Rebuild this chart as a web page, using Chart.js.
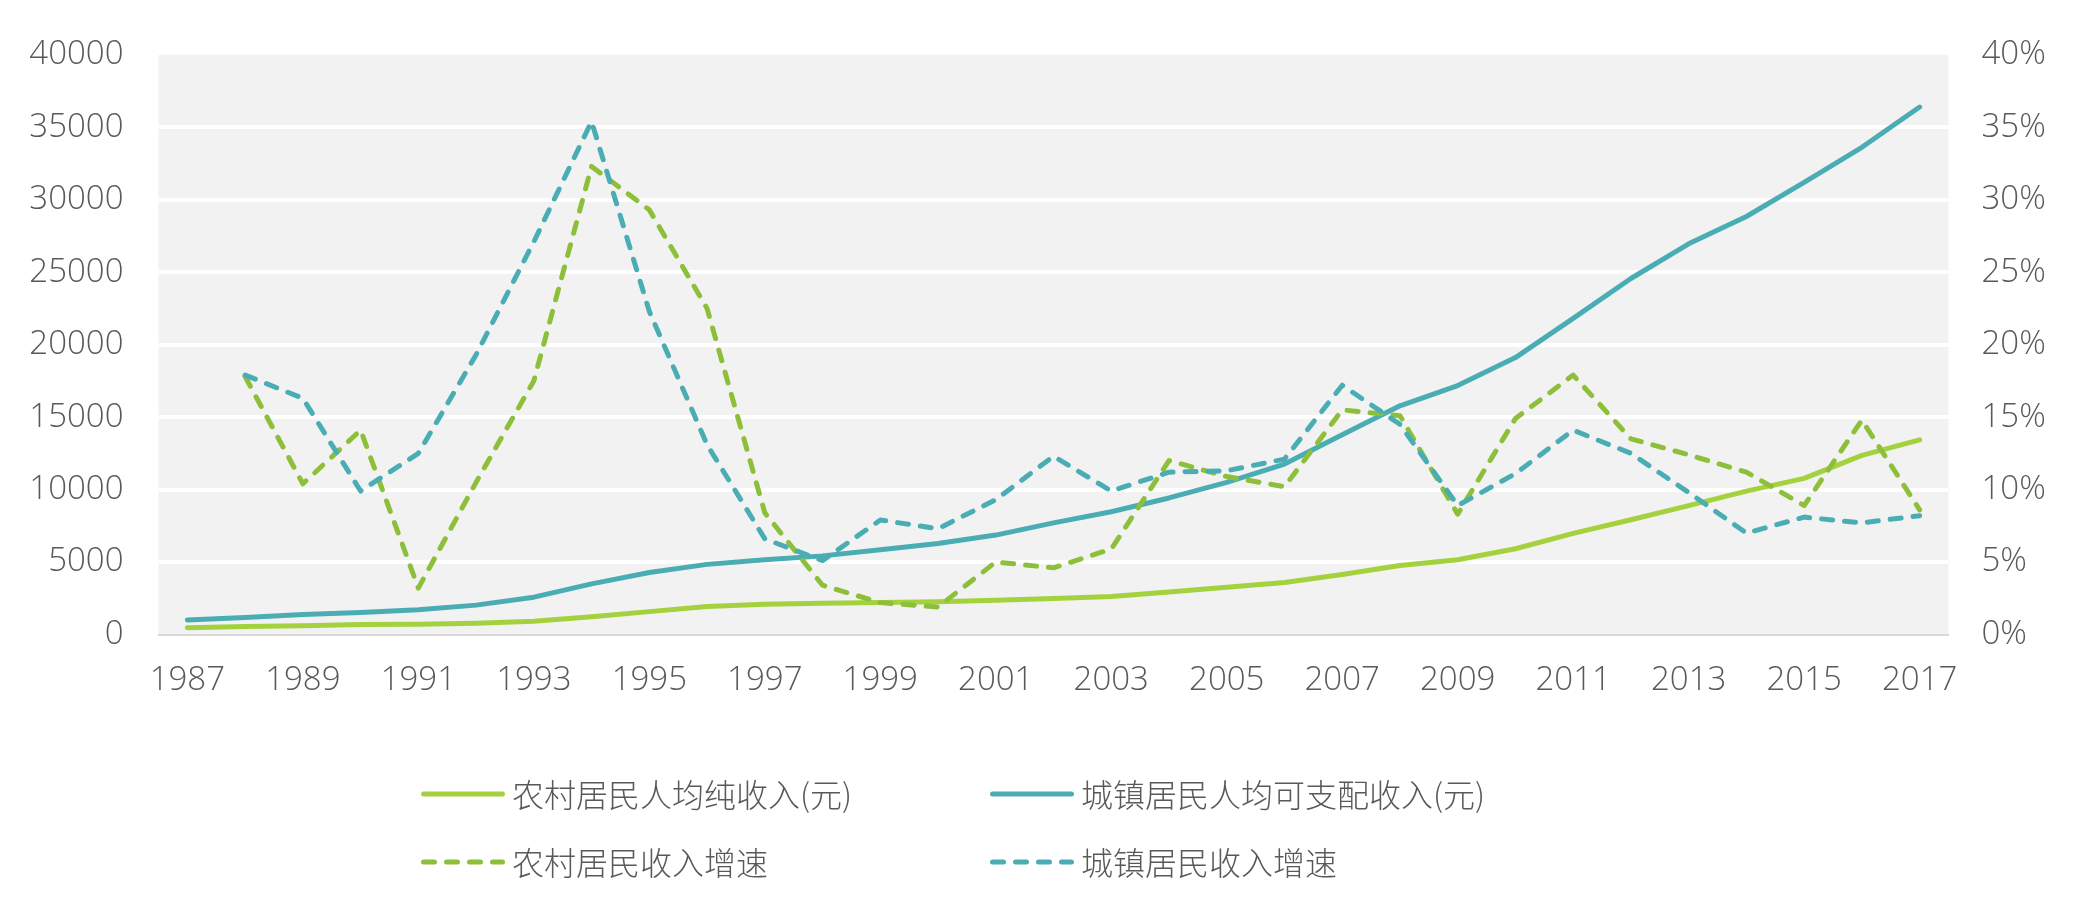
<!DOCTYPE html>
<html>
<head>
<meta charset="utf-8">
<script src="https://cdn.jsdelivr.net/npm/chart.js@4.4.1/dist/chart.umd.min.js"></script>
<style>
  html, body { margin: 0; padding: 0; background: #ffffff; }
  #wrap { width: 2084px; height: 916px; position: relative; }
</style>
</head>
<body>
<div id="wrap"><canvas id="c" width="2084" height="916"></canvas></div>
<script>
// ---------- data ----------
const years = ['1987','1988','1989','1990','1991','1992','1993','1994','1995','1996','1997','1998','1999','2000','2001','2002','2003','2004','2005','2006','2007','2008','2009','2010','2011','2012','2013','2014','2015','2016','2017'];

const ruralIncome = [463, 545, 602, 686, 709, 784, 922, 1221, 1578, 1926, 2090, 2162, 2210, 2253, 2366, 2476, 2622, 2936, 3255, 3587, 4140, 4761, 5153, 5919, 6977, 7917, 8896, 9892, 10772, 12363, 13432];
const urbanIncome = [1002, 1180, 1374, 1510, 1701, 2027, 2577, 3496, 4283, 4839, 5160, 5425, 5854, 6280, 6860, 7703, 8472, 9422, 10493, 11760, 13786, 15781, 17175, 19109, 21810, 24565, 26955, 28844, 31195, 33616, 36396];
const ruralGrowth = [null, 17.8, 10.4, 14.1, 3.2, 10.5, 17.5, 32.3, 29.3, 22.5, 8.4, 3.4, 2.2, 1.9, 5.0, 4.6, 5.9, 12.0, 10.9, 10.2, 15.5, 15.1, 8.3, 14.9, 17.9, 13.5, 12.4, 11.2, 8.9, 14.8, 8.6];
const urbanGrowth = [null, 17.9, 16.3, 9.9, 12.5, 19.3, 27.1, 35.4, 22.3, 13.1, 6.6, 5.1, 7.9, 7.3, 9.3, 12.3, 9.9, 11.2, 11.3, 12.1, 17.2, 14.5, 8.9, 11.1, 14.1, 12.5, 9.8, 7.0, 8.1, 7.7, 8.2];

const seriesLabels = ['农村居民人均纯收入(元)', '城镇居民人均可支配收入(元)', '农村居民收入增速', '城镇居民收入增速'];

const leftTicks = { min: 0, max: 40000, step: 5000 };
const rightTicks = { min: 0, max: 40, step: 5 };

// ---------- styles ----------
const GREEN = '#A4D23F';
const GREEN_DASH = '#8EBF3B';
const TEAL = '#4BADB4';
const TEXT = '#595959';
const TICK_FONT = { family: '"Open Sans", "Noto Sans", sans-serif', size: 33, weight: '300' };
const LEGEND_FONT = '300 32px "Noto Sans CJK SC", "Noto Sans", sans-serif';

const plotBg = {
  id: 'plotBg',
  beforeDraw(chart) {
    const { ctx, chartArea: a } = chart;
    ctx.save();
    ctx.fillStyle = '#F2F2F2';
    ctx.fillRect(a.left, a.top, a.right - a.left, a.bottom - a.top);
    ctx.restore();
  }
};

// two-column legend drawn under the x axis
const gridLegend = {
  id: 'gridLegend',
  afterDraw(chart) {
    const { ctx } = chart;
    const cols = [421, 990];
    const rows = [794, 862];
    const sampleLen = 84;
    chart.data.datasets.forEach((ds, i) => {
      const x = cols[i % 2];
      const y = rows[Math.floor(i / 2)];
      ctx.save();
      ctx.strokeStyle = ds.borderColor;
      ctx.lineWidth = 5;
      ctx.lineCap = 'round';
      ctx.setLineDash(ds.borderDash || []);
      ctx.beginPath();
      ctx.moveTo(x + 2.5, y);
      ctx.lineTo(x + sampleLen - 2.5, y);
      ctx.stroke();
      ctx.setLineDash([]);
      ctx.fillStyle = TEXT;
      ctx.font = LEGEND_FONT;
      ctx.textAlign = 'left';
      ctx.textBaseline = 'middle';
      ctx.fillText(ds.label, x + 91, y + 1);
      ctx.restore();
    });
  }
};

const gridColor = (ctx) => {
  const v = ctx.tick && ctx.tick.value;
  return (v === leftTicks.min || v === leftTicks.max) ? 'rgba(0,0,0,0)' : '#FFFFFF';
};

new Chart(document.getElementById('c'), {
  type: 'line',
  data: {
    labels: years,
    datasets: [
      { label: seriesLabels[0], data: ruralIncome, yAxisID: 'y', borderColor: GREEN, backgroundColor: GREEN,
        borderWidth: 5, pointRadius: 0, tension: 0, borderCapStyle: 'round', borderJoinStyle: 'round', order: 4 },
      { label: seriesLabels[1], data: urbanIncome, yAxisID: 'y', borderColor: TEAL, backgroundColor: TEAL,
        borderWidth: 5, pointRadius: 0, tension: 0, borderCapStyle: 'round', borderJoinStyle: 'round', order: 3 },
      { label: seriesLabels[2], data: ruralGrowth, yAxisID: 'y1', borderColor: GREEN_DASH, backgroundColor: GREEN_DASH,
        borderWidth: 5, pointRadius: 0, tension: 0, borderCapStyle: 'round', borderJoinStyle: 'round', borderDash: [11, 12], order: 2 },
      { label: seriesLabels[3], data: urbanGrowth, yAxisID: 'y1', borderColor: TEAL, backgroundColor: TEAL,
        borderWidth: 5, pointRadius: 0, tension: 0, borderCapStyle: 'round', borderJoinStyle: 'round', borderDash: [11, 12], order: 1 }
    ]
  },
  options: {
    responsive: false,
    animation: false,
    devicePixelRatio: 1,
    layout: { padding: { top: 54, left: 0, right: 0, bottom: 0 } },
    plugins: { legend: { display: false }, tooltip: { enabled: false } },
    scales: {
      x: {
        type: 'category',
        offset: true,
        grid: { display: false, drawTicks: false },
        border: { display: true, color: '#D9D9D9', width: 2 },
        ticks: {
          autoSkip: false, maxRotation: 0, minRotation: 0, padding: 26,
          color: TEXT, font: TICK_FONT,
          callback: function (v, i) { return i % 2 === 0 ? years[i] : ''; }
        },
        afterFit: (s) => { s.height = 281.5; }
      },
      y: {
        position: 'left',
        min: leftTicks.min, max: leftTicks.max,
        grid: { color: gridColor, lineWidth: 4, drawTicks: false },
        border: { display: false },
        ticks: { stepSize: leftTicks.step, padding: 35, color: TEXT, font: TICK_FONT,
          callback: (v) => String(v) },
        afterFit: (s) => { s.width = 158.5; }
      },
      y1: {
        position: 'right',
        min: rightTicks.min, max: rightTicks.max,
        grid: { display: false, drawOnChartArea: false, drawTicks: false },
        border: { display: false },
        ticks: { stepSize: rightTicks.step, padding: 33, color: TEXT, font: TICK_FONT,
          callback: (v) => v + '%' },
        afterFit: (s) => { s.width = 135.5; }
      }
    }
  },
  plugins: [plotBg, gridLegend]
});
</script>
</body>
</html>
